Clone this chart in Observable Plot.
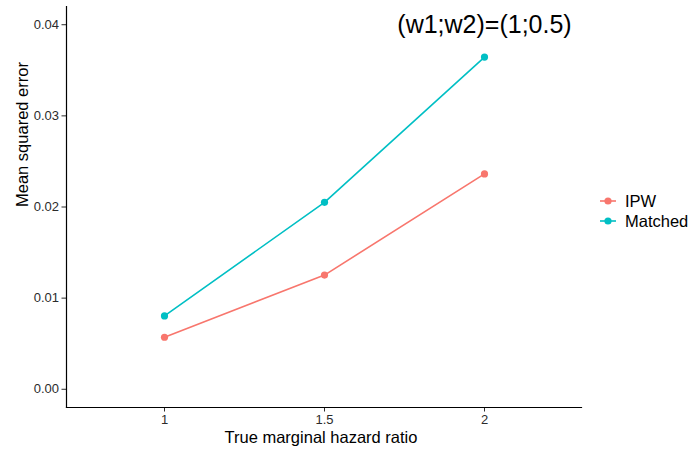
<!DOCTYPE html>
<html>
<head>
<meta charset="utf-8">
<script src="https://cdn.jsdelivr.net/npm/d3@7"></script>
<script src="https://cdn.jsdelivr.net/npm/@observablehq/plot@0.6"></script>
<style>
  html, body { margin: 0; padding: 0; background: #fff; }
  #wrap { position: relative; width: 695px; height: 456px; font-family: "Liberation Sans", Arial, sans-serif; }
  #legend { position: absolute; left: 600px; top: 191px; font-size: 16.5px; color: #000; }
  .item { display: flex; align-items: center; height: 20px; }
  .item svg { margin-right: 9px; }
</style>
</head>
<body>
<div id="wrap"><div id="legend"></div></div>
<script>
const hazardRatios = ["1", "1.5", "2"];
const ipw = [0.00571, 0.01253, 0.02363];
const matched = [0.00805, 0.02051, 0.03645];
const seriesNames = ["IPW", "Matched"];
const seriesColors = ["#F8766D", "#00BFC4"];
const yTicks = [0, 0.01, 0.02, 0.03, 0.04];
const annotation = "(w1;w2)=(1;0.5)";

const data = [];
hazardRatios.forEach((h, i) => {
  data.push({hr: h, mse: ipw[i], method: seriesNames[0]});
});
hazardRatios.forEach((h, i) => {
  data.push({hr: h, mse: matched[i], method: seriesNames[1]});
});

const font = "Liberation Sans, Arial, sans-serif";

const chart = Plot.plot({
  width: 695,
  height: 456,
  marginLeft: 66,
  marginRight: 114,
  marginTop: 6,
  marginBottom: 49,
  style: {fontFamily: font, fontSize: "13px", background: "white"},
  x: {type: "point", domain: hazardRatios, padding: 0.6},
  y: {domain: [-0.002, 0.042]},
  color: {domain: seriesNames, range: seriesColors},
  marks: [
    Plot.axisY({ticks: yTicks, tickFormat: d3.format(".2f"), tickSize: 4.5, tickPadding: 3, fontSize: 13, color: "#2b2b2b", label: null}),
    Plot.axisX({tickSize: 4.5, tickPadding: 3, fontSize: 13, color: "#2b2b2b", label: null}),
    Plot.frame({anchor: "left", stroke: "black", strokeWidth: 1.2}),
    Plot.frame({anchor: "bottom", stroke: "black", strokeWidth: 1.2}),
    Plot.line(data, {x: "hr", y: "mse", stroke: "method", z: "method", strokeWidth: 1.6}),
    Plot.dot(data, {x: "hr", y: "mse", fill: "method", r: 3.6}),
    Plot.text([annotation], {x: () => "2", y: () => 0.04, text: d => d, fontSize: 25, fill: "black"}),
    Plot.text(["True marginal hazard ratio"], {frameAnchor: "bottom", dy: 35, dx: -3, text: d => d, fontSize: 16.5, fill: "black"}),
    Plot.text(["Mean squared error"], {frameAnchor: "left", dx: -44, rotate: -90, text: d => d, fontSize: 16.5, fill: "black"})
  ]
});
const wrap = document.getElementById("wrap");
wrap.insertBefore(chart, wrap.firstChild);

const legend = d3.select("#legend");
seriesNames.forEach((name, i) => {
  const item = legend.append("div").attr("class", "item");
  const svg = item.append("svg").attr("width", 16).attr("height", 12);
  svg.append("line").attr("x1", 0).attr("x2", 16).attr("y1", 6).attr("y2", 6)
    .attr("stroke", seriesColors[i]).attr("stroke-width", 1.6);
  svg.append("circle").attr("cx", 8).attr("cy", 6).attr("r", 3.6).attr("fill", seriesColors[i]);
  item.append("span").text(name);
});
</script>
</body>
</html>
